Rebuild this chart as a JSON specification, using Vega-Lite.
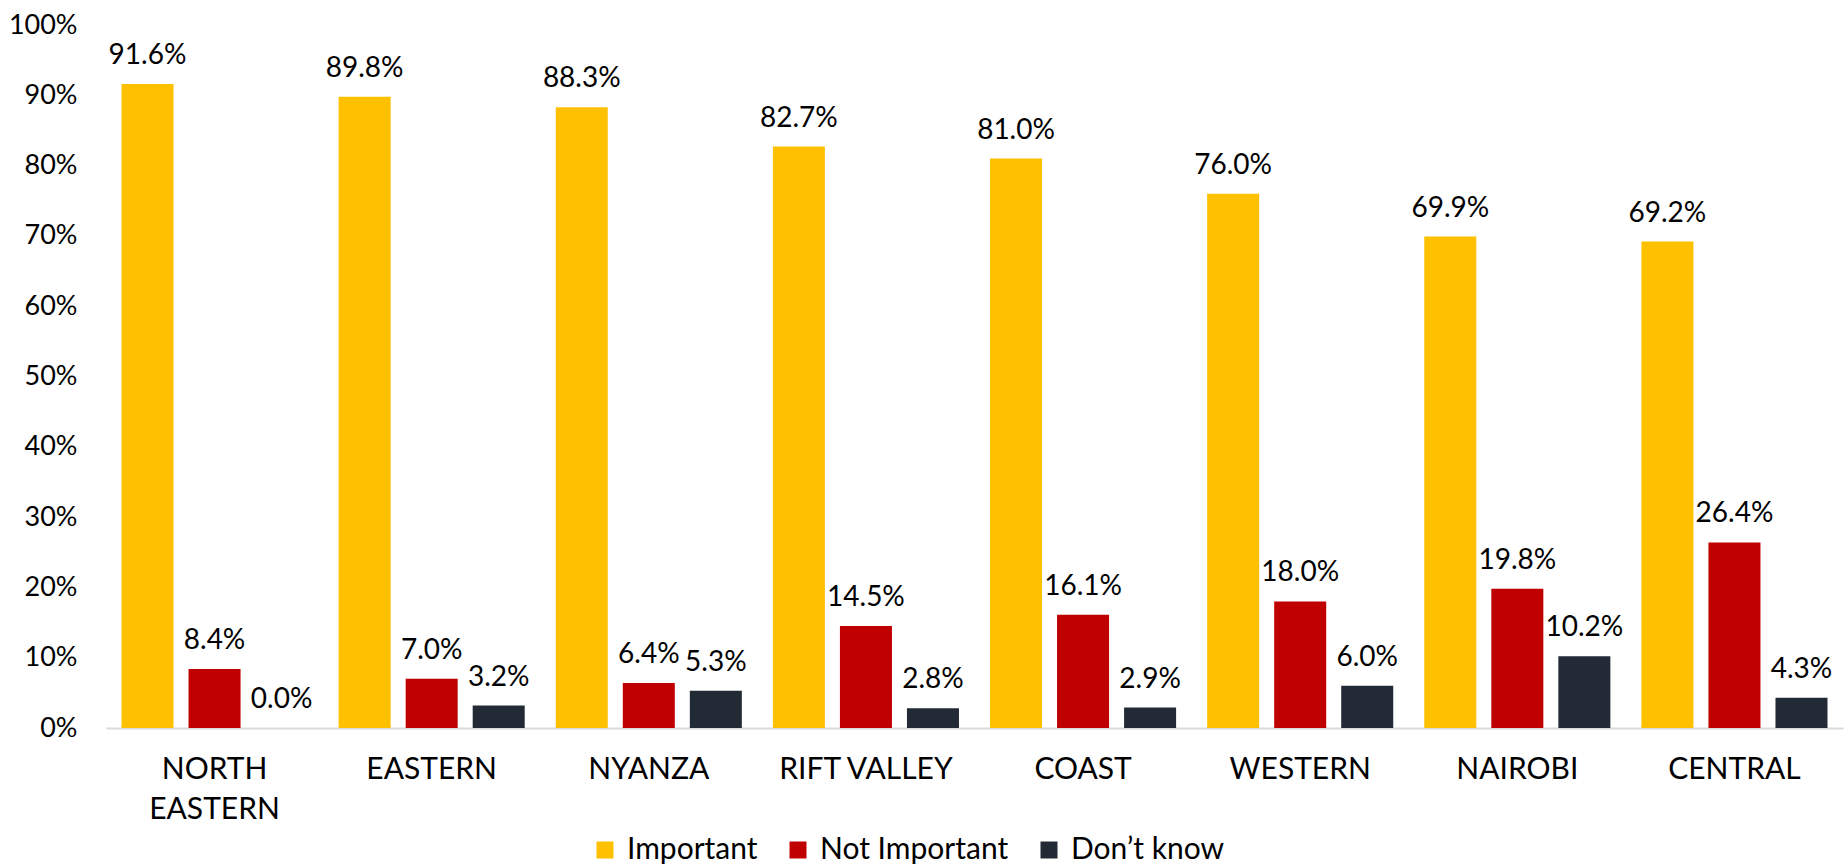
{
  "$schema": "https://vega.github.io/schema/vega-lite/v6.json",
  "width": 1737,
  "height": 703,
  "autosize": {"type": "none"},
  "padding": {"left": 106, "top": 25, "right": 4, "bottom": 138},
  "background": "white",
  "config": {"view": {"stroke": null}, "font": "Lato"},
  "data": {
    "values": [
      {"region": "NORTH EASTERN", "response": "Important", "value": 0.916},
      {"region": "NORTH EASTERN", "response": "Not Important", "value": 0.084},
      {"region": "NORTH EASTERN", "response": "Don’t know", "value": 0.0},
      {"region": "EASTERN", "response": "Important", "value": 0.898},
      {"region": "EASTERN", "response": "Not Important", "value": 0.07},
      {"region": "EASTERN", "response": "Don’t know", "value": 0.032},
      {"region": "NYANZA", "response": "Important", "value": 0.883},
      {"region": "NYANZA", "response": "Not Important", "value": 0.064},
      {"region": "NYANZA", "response": "Don’t know", "value": 0.053},
      {"region": "RIFT VALLEY", "response": "Important", "value": 0.827},
      {"region": "RIFT VALLEY", "response": "Not Important", "value": 0.145},
      {"region": "RIFT VALLEY", "response": "Don’t know", "value": 0.028},
      {"region": "COAST", "response": "Important", "value": 0.81},
      {"region": "COAST", "response": "Not Important", "value": 0.161},
      {"region": "COAST", "response": "Don’t know", "value": 0.029},
      {"region": "WESTERN", "response": "Important", "value": 0.76},
      {"region": "WESTERN", "response": "Not Important", "value": 0.18},
      {"region": "WESTERN", "response": "Don’t know", "value": 0.06},
      {"region": "NAIROBI", "response": "Important", "value": 0.699},
      {"region": "NAIROBI", "response": "Not Important", "value": 0.198},
      {"region": "NAIROBI", "response": "Don’t know", "value": 0.102},
      {"region": "CENTRAL", "response": "Important", "value": 0.692},
      {"region": "CENTRAL", "response": "Not Important", "value": 0.264},
      {"region": "CENTRAL", "response": "Don’t know", "value": 0.043}
    ]
  },
  "encoding": {
    "x": {
      "field": "region",
      "type": "nominal",
      "sort": null,
      "scale": {"paddingInner": 0.143, "paddingOuter": 0.0714},
      "axis": {
        "title": null,
        "labelAngle": 0,
        "ticks": false,
        "domainColor": "#D9D9D9",
        "domainWidth": 2,
        "labelFontSize": 30,
        "labelColor": "black",
        "labelPadding": 26,
        "labelLineHeight": 40,
        "labelLimit": 0,
        "labelExpr": "datum.label == 'NORTH EASTERN' ? ['NORTH', 'EASTERN'] : datum.label"
      }
    },
    "xOffset": {
      "field": "response",
      "type": "nominal",
      "sort": ["Important", "Not Important", "Don’t know"],
      "scale": {"paddingInner": 0.224, "paddingOuter": 0}
    },
    "y": {
      "field": "value",
      "type": "quantitative",
      "scale": {"domain": [0, 1]},
      "axis": {
        "title": null,
        "format": ".0%",
        "values": [0, 0.1, 0.2, 0.3, 0.4, 0.5, 0.6, 0.7, 0.8, 0.9, 1],
        "grid": false,
        "domain": false,
        "ticks": false,
        "labelFontSize": 27,
        "labelColor": "black",
        "labelPadding": 29
      }
    }
  },
  "layer": [
    {
      "mark": {"type": "bar"},
      "encoding": {
        "color": {
          "field": "response",
          "type": "nominal",
          "sort": ["Important", "Not Important", "Don’t know"],
          "scale": {
            "domain": ["Important", "Not Important", "Don’t know"],
            "range": ["#FFC000", "#C00000", "#222A35"]
          },
          "legend": {
            "title": null,
            "orient": "none",
            "direction": "horizontal",
            "legendX": 484,
            "legendY": 810,
            "symbolType": "square",
            "symbolSize": 289,
            "symbolStrokeWidth": 0,
            "symbolOpacity": 1,
            "labelFontSize": 30,
            "labelColor": "black",
            "labelOffset": 7,
            "labelLimit": 0,
            "columnPadding": 25
          }
        }
      }
    },
    {
      "mark": {"type": "text", "baseline": "alphabetic", "dy": -20, "fontSize": 28, "color": "black"},
      "encoding": {
        "text": {"field": "value", "type": "quantitative", "format": ".1%"}
      }
    }
  ]
}
